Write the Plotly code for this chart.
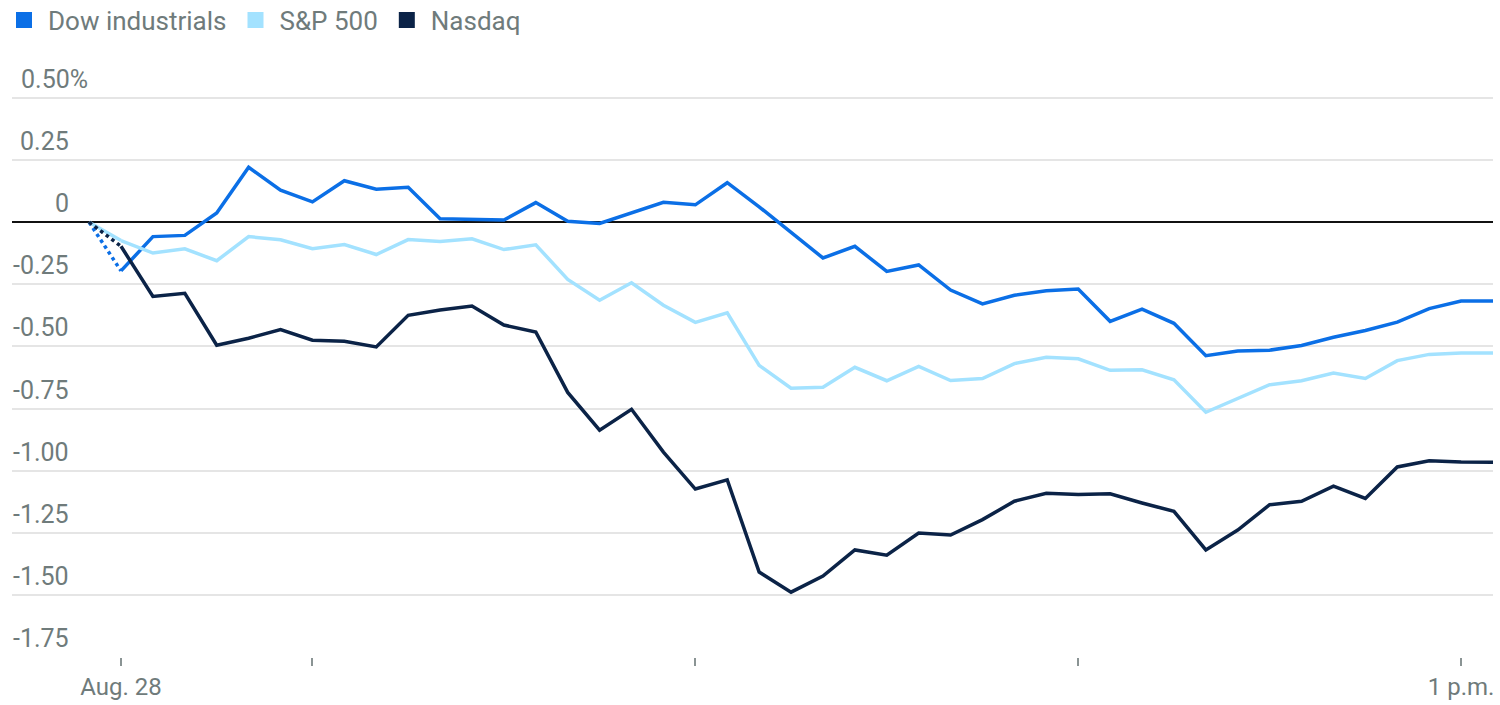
import pandas as pd
import plotly.graph_objects as go

# 5-minute readings from the open (9:30) to 1:05 p.m., percent change vs prior close
times = pd.date_range("2023-08-28 09:30", "2023-08-28 13:05", freq="5min")
prev_close_time = pd.Timestamp("2023-08-28 09:25")

dow = [-0.196, -0.058, -0.053, 0.037, 0.221, 0.129, 0.082, 0.167, 0.133, 0.141,
       0.014, 0.011, 0.009, 0.079, 0.004, -0.005, 0.038, 0.080, 0.070, 0.159,
       0.062, -0.040, -0.144, -0.097, -0.198, -0.172, -0.273, -0.329, -0.294, -0.276,
       -0.269, -0.399, -0.350, -0.407, -0.537, -0.518, -0.515, -0.496, -0.463, -0.436,
       -0.402, -0.348, -0.317, -0.317]
sp500 = [-0.074, -0.124, -0.107, -0.155, -0.058, -0.071, -0.107, -0.090, -0.130, -0.070,
         -0.078, -0.067, -0.110, -0.091, -0.230, -0.314, -0.244, -0.334, -0.403, -0.365,
         -0.576, -0.668, -0.664, -0.584, -0.638, -0.580, -0.637, -0.629, -0.569, -0.544,
         -0.550, -0.596, -0.594, -0.634, -0.765, -0.708, -0.654, -0.638, -0.607, -0.629,
         -0.557, -0.532, -0.526, -0.526]
nasdaq = [-0.097, -0.299, -0.286, -0.495, -0.467, -0.432, -0.475, -0.479, -0.502, -0.375,
          -0.353, -0.337, -0.414, -0.442, -0.685, -0.837, -0.753, -0.925, -1.074, -1.037,
          -1.408, -1.489, -1.424, -1.319, -1.340, -1.251, -1.259, -1.197, -1.123, -1.091,
          -1.096, -1.093, -1.130, -1.164, -1.319, -1.239, -1.137, -1.123, -1.062, -1.112,
          -0.985, -0.960, -0.965, -0.966]

names = ["Dow industrials", "S&P 500", "Nasdaq"]
colors = ["#0b6fe6", "#a3e2ff", "#0b2347"]

y_ticks = [0.5, 0.25, 0, -0.25, -0.5, -0.75, -1.0, -1.25, -1.5, -1.75]
y_labels = ["0.50%", "0.25", "0", "-0.25", "-0.50", "-0.75", "-1.00", "-1.25", "-1.50", "-1.75"]
x_ticks = ["2023-08-28 09:30", "2023-08-28 10:00", "2023-08-28 11:00",
           "2023-08-28 12:00", "2023-08-28 13:00"]
x_labels = ["Aug. 28", "", "", "", "1 p.m."]

grey = "#6f7b7b"
font = "Roboto, Inter, Arial, sans-serif"

fig = go.Figure()

for name, vals, color in zip(names, [dow, sp500, nasdaq], colors):
    # link from previous close to the first reading
    fig.add_trace(go.Scatter(
        x=[prev_close_time, times[0]], y=[0, vals[0]],
        mode="lines", showlegend=False, hoverinfo="skip",
        line=dict(color=color, width=3.5, dash="solid" if name == "S&P 500" else "dot"),
    ))
    fig.add_trace(go.Scatter(
        x=times, y=vals, mode="lines", name=name, showlegend=False,
        line=dict(color=color, width=3.5),
    ))
    # legend entry with a square swatch
    fig.add_trace(go.Scatter(
        x=[None], y=[None], mode="markers", name=name,
        marker=dict(symbol="square", size=16, color=color),
    ))

# y labels sit above their gridlines at the left of the plot
plot_left, plot_width = 12, 1481
for val, lab in zip(y_ticks, y_labels):
    if val == 0.5:
        xp, anchor = (19 - plot_left) / plot_width, "left"
    else:
        xp, anchor = (71 - plot_left) / plot_width, "right"
    fig.add_annotation(
        x=xp, xref="paper", y=val, yref="y", text=lab, showarrow=False,
        xanchor=anchor, yanchor="bottom", yshift=2,
        font=dict(size=25, color=grey, family=font),
    )

fig.update_layout(
    width=1500, height=705,
    margin=dict(l=12, r=7, t=96, b=48, autoexpand=False),
    paper_bgcolor="white", plot_bgcolor="white",
    font=dict(family=font, color=grey, size=24),
    legend=dict(
        orientation="h", x=0, y=1 - 20 / 705, xref="container", yref="container",
        xanchor="left", yanchor="middle", font=dict(size=26, color=grey, family=font),
        itemwidth=38, traceorder="normal", bgcolor="rgba(0,0,0,0)",
    ),
    xaxis=dict(
        type="date", range=["2023-08-28 09:12:55", "2023-08-28 13:05:00"],
        tickvals=x_ticks, ticktext=x_labels, automargin=False,
        showgrid=False, zeroline=False, showline=False,
        ticks="outside", ticklen=8, tickwidth=1.5, tickcolor="#8a9494",
        tickfont=dict(size=24, color=grey, family=font),
    ),
    yaxis=dict(
        range=[-1.75, 0.508], tickvals=y_ticks, showticklabels=False, automargin=False,
        showgrid=True, gridcolor="#e5e5e5", gridwidth=1.5,
        zeroline=True, zerolinecolor="#111111", zerolinewidth=1.5,
        showline=False, fixedrange=True,
    ),
)

# drop the page's default body margin so the figure sits at the window's corner
fig.write_html("out.html", config={"displayModeBar": False},
               post_script="document.body.style.margin = '0';")
